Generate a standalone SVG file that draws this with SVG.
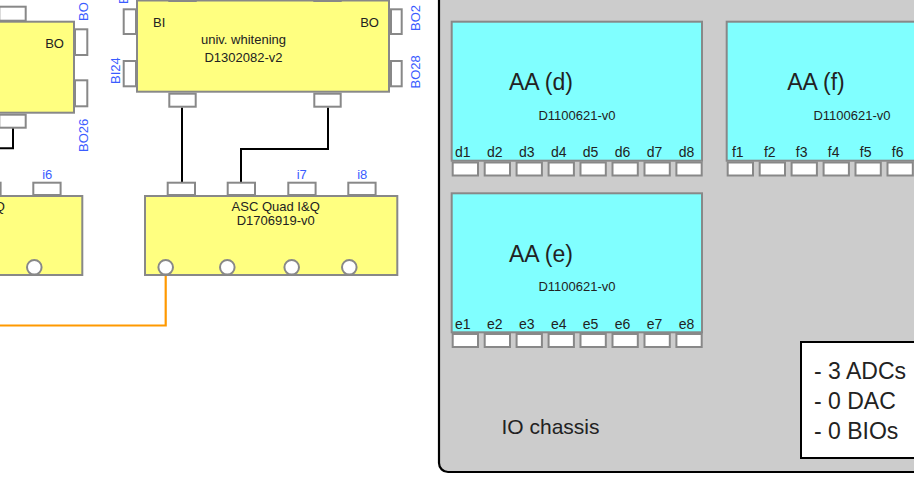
<svg xmlns="http://www.w3.org/2000/svg" width="914" height="499" viewBox="0 0 914 499">
<style>
text{font-family:"Liberation Sans",Arial,sans-serif;fill:#222}
.yb{fill:#ffff80;stroke:#888;stroke-width:2}
.cb{fill:#80ffff;stroke:#888;stroke-width:2}
.pt{fill:#fff;stroke:#888;stroke-width:2}
.lbl{font-size:13px;fill:#3a5cff}
.t13{font-size:13px}
.mid{text-anchor:middle}
.end{text-anchor:end}
.pl{font-size:14px;text-anchor:middle}
.big{font-size:23px;text-anchor:middle}
.sub{font-size:13px;text-anchor:middle}
.wire{fill:none;stroke:#000;stroke-width:2}
.orange{fill:none;stroke:#ff9900;stroke-width:2.2}
</style>
<rect width="914" height="499" fill="#fff"/>

<g id="chassis">
<rect x="439" y="-20" width="520" height="492" rx="9" fill="#cccccc" stroke="#000" stroke-width="2.2"/>
<text x="501.5" y="434" font-size="21px">IO chassis</text>
</g>

<g id="legend">
<rect x="801" y="342" width="140" height="116" fill="#fff" stroke="#000" stroke-width="2"/>
<text x="814" y="379" font-size="23px">- 3 ADCs</text>
<text x="814" y="409" font-size="23px">- 0 DAC</text>
<text x="814" y="439" font-size="23px">- 0 BIOs</text>
</g>

<g id="connectors">
<path class="wire" d="M182 107.5V182"/>
<path class="wire" d="M328 107.5V149H241V182"/>
<path class="wire" d="M13 127.5V148.3H-2"/>
<path class="orange" d="M165.7 275V325.5H-2"/>
</g>

<g id="whitening-left">
<rect class="yb" x="-178" y="21.7" width="252" height="91"/>
<rect class="pt" x="-0.7" y="6.7" width="26.4" height="14"/>
<rect class="pt" x="-0.7" y="114.7" width="26.4" height="13"/>
<rect class="pt" x="75" y="29.3" width="12.3" height="25.7"/>
<rect class="pt" x="75" y="80.3" width="12.3" height="26"/>
<text class="t13 end" x="64" y="47.5">BO</text>
<text class="lbl" transform="translate(88,21) rotate(-90)">BO</text>
<text class="lbl" transform="translate(88,152) rotate(-90)">BO26</text>
</g>

<g id="whitening">
<rect class="yb" x="137" y="0.5" width="252" height="91.2"/>
<rect class="pt" x="169.3" y="-13" width="26.4" height="14"/>
<rect class="pt" x="314.3" y="-13" width="26.4" height="14"/>
<rect class="pt" x="169.3" y="93.7" width="26.4" height="13"/>
<rect class="pt" x="314.3" y="93.7" width="26.4" height="13"/>
<rect class="pt" x="123.7" y="9.3" width="12.3" height="24.7"/>
<rect class="pt" x="123.7" y="61" width="12.3" height="25.3"/>
<rect class="pt" x="391" y="9.3" width="10.7" height="24.7"/>
<rect class="pt" x="391" y="61" width="10.7" height="25.3"/>
<text class="t13" x="153" y="27">BI</text>
<text class="t13 end" x="379" y="27">BO</text>
<text class="t13 mid" x="243.5" y="43.5">univ. whitening</text>
<text class="t13 mid" x="243.5" y="61.5">D1302082-v2</text>
<text class="lbl" transform="translate(128,4) rotate(-90)">B</text>
<text class="lbl" transform="translate(120,84) rotate(-90)">BI24</text>
<text class="lbl" transform="translate(420,31) rotate(-90)">BO2</text>
<text class="lbl" transform="translate(420,88.5) rotate(-90)">BO28</text>
</g>

<g id="asc-left">
<rect class="yb" x="-170" y="196" width="252.3" height="79"/>
<rect class="pt" x="-26.7" y="182.7" width="27.3" height="12.3"/>
<rect class="pt" x="33.3" y="182.7" width="27.3" height="12.3"/>
<text class="lbl mid" x="47.3" y="179">i6</text>
<text class="t13 mid" x="-39.3" y="210.7">ASC Quad I&amp;Q</text>
<text class="t13 mid" x="-39.3" y="225">D1706919-v0</text>
<circle class="pt" cx="-23.3" cy="267.3" r="7.3"/>
<circle class="pt" cx="34.3" cy="267.3" r="7.3"/>
</g>

<g id="asc">
<rect class="yb" x="145" y="196" width="252.3" height="79"/>
<rect class="pt" x="167.7" y="182.7" width="27.3" height="12.3"/>
<rect class="pt" x="227.7" y="182.7" width="27.3" height="12.3"/>
<rect class="pt" x="288.3" y="182.7" width="27.3" height="12.3"/>
<rect class="pt" x="348.3" y="182.7" width="27.3" height="12.3"/>
<text class="lbl mid" x="301.7" y="179">i7</text>
<text class="lbl mid" x="362.3" y="179">i8</text>
<text class="t13 mid" x="275.7" y="210.7">ASC Quad I&amp;Q</text>
<text class="t13 mid" x="275.7" y="225">D1706919-v0</text>
<circle class="pt" cx="165.7" cy="267.3" r="7.3"/>
<circle class="pt" cx="227.3" cy="267.3" r="7.3"/>
<circle class="pt" cx="291.7" cy="267.3" r="7.3"/>
<circle class="pt" cx="349.3" cy="267.3" r="7.3"/>
</g>

<g id="aa-d">
<rect class="cb" x="451.7" y="21.7" width="250.3" height="139"/>
<text class="big" x="541" y="90">AA (d)</text>
<text class="sub" x="577" y="119.5">D1100621-v0</text>
<rect class="pt" x="452.7" y="162.5" width="25.3" height="13"/>
<rect class="pt" x="484.7" y="162.5" width="25.3" height="13"/>
<rect class="pt" x="516.6" y="162.5" width="25.3" height="13"/>
<rect class="pt" x="548.6" y="162.5" width="25.3" height="13"/>
<rect class="pt" x="580.5" y="162.5" width="25.3" height="13"/>
<rect class="pt" x="612.5" y="162.5" width="25.3" height="13"/>
<rect class="pt" x="644.5" y="162.5" width="25.3" height="13"/>
<rect class="pt" x="676.4" y="162.5" width="25.3" height="13"/>
<text class="pl" x="462.8" y="157">d1</text>
<text class="pl" x="494.8" y="157">d2</text>
<text class="pl" x="526.7" y="157">d3</text>
<text class="pl" x="558.7" y="157">d4</text>
<text class="pl" x="590.6" y="157">d5</text>
<text class="pl" x="622.6" y="157">d6</text>
<text class="pl" x="654.6" y="157">d7</text>
<text class="pl" x="686.5" y="157">d8</text>
</g>

<g id="aa-f">
<rect class="cb" x="726.7" y="21.7" width="250.3" height="139"/>
<text class="big" x="816" y="90">AA (f)</text>
<text class="sub" x="852" y="119.5">D1100621-v0</text>
<rect class="pt" x="727.7" y="162.5" width="25.3" height="13"/>
<rect class="pt" x="759.7" y="162.5" width="25.3" height="13"/>
<rect class="pt" x="791.6" y="162.5" width="25.3" height="13"/>
<rect class="pt" x="823.6" y="162.5" width="25.3" height="13"/>
<rect class="pt" x="855.5" y="162.5" width="25.3" height="13"/>
<rect class="pt" x="887.5" y="162.5" width="25.3" height="13"/>
<rect class="pt" x="919.5" y="162.5" width="25.3" height="13"/>
<text class="pl" x="737.8" y="157">f1</text>
<text class="pl" x="769.8" y="157">f2</text>
<text class="pl" x="801.7" y="157">f3</text>
<text class="pl" x="833.7" y="157">f4</text>
<text class="pl" x="865.6" y="157">f5</text>
<text class="pl" x="897.6" y="157">f6</text>
</g>

<g id="aa-e">
<rect class="cb" x="451.7" y="193.3" width="250.3" height="139"/>
<text class="big" x="541" y="261.5">AA (e)</text>
<text class="sub" x="577" y="291.2">D1100621-v0</text>
<rect class="pt" x="452.7" y="334" width="25.3" height="13"/>
<rect class="pt" x="484.7" y="334" width="25.3" height="13"/>
<rect class="pt" x="516.6" y="334" width="25.3" height="13"/>
<rect class="pt" x="548.6" y="334" width="25.3" height="13"/>
<rect class="pt" x="580.5" y="334" width="25.3" height="13"/>
<rect class="pt" x="612.5" y="334" width="25.3" height="13"/>
<rect class="pt" x="644.5" y="334" width="25.3" height="13"/>
<rect class="pt" x="676.4" y="334" width="25.3" height="13"/>
<text class="pl" x="462.8" y="328.5">e1</text>
<text class="pl" x="494.8" y="328.5">e2</text>
<text class="pl" x="526.7" y="328.5">e3</text>
<text class="pl" x="558.7" y="328.5">e4</text>
<text class="pl" x="590.6" y="328.5">e5</text>
<text class="pl" x="622.6" y="328.5">e6</text>
<text class="pl" x="654.6" y="328.5">e7</text>
<text class="pl" x="686.5" y="328.5">e8</text>
</g>
</svg>
